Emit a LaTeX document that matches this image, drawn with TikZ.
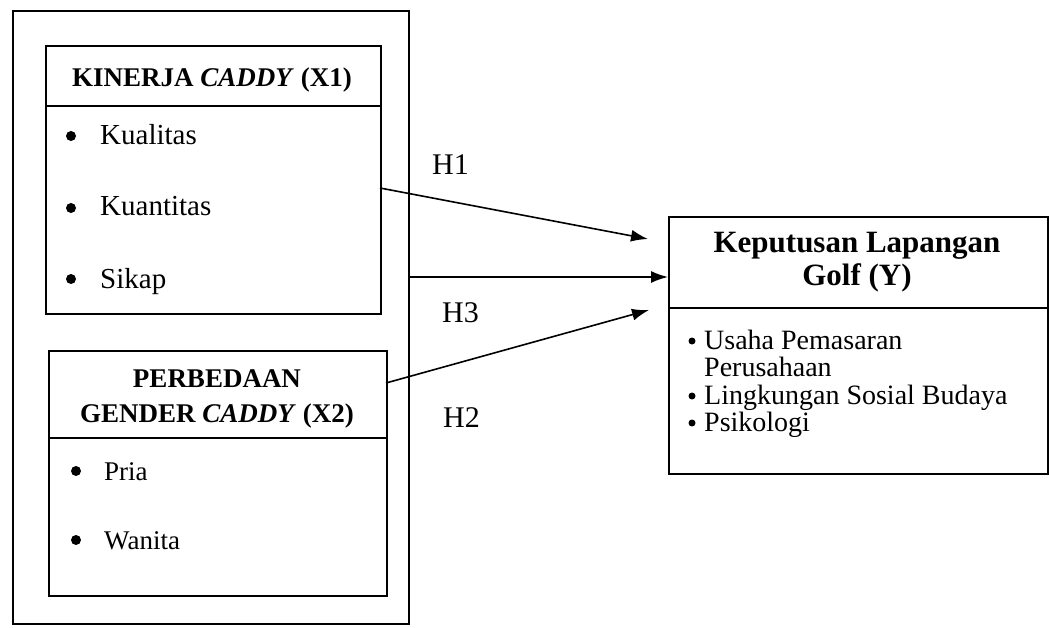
\documentclass[tikz,border=0pt]{standalone}
\usepackage{fontspec}
\setmainfont{Liberation Serif}
\usetikzlibrary{arrows.meta}
\begin{document}
\begin{tikzpicture}[x=1pt,y=-1pt,
  frame/.style={draw, line width=1.6pt, rectangle, inner sep=0pt, anchor=north west},
  div/.style={line width=1.6pt},
  arr/.style={line width=1.6pt, -{Latex[length=17pt,width=12pt]}},
  ttl/.style={font=\fontsize{27}{30}\selectfont\bfseries, anchor=base, inner sep=0pt},
  ttly/.style={font=\fontsize{31}{33}\selectfont\bfseries, anchor=base, inner sep=0pt},
  itm/.style={font=\fontsize{29}{32}\selectfont, anchor=base west, inner sep=0pt},
  itmb/.style={font=\fontsize{27}{30}\selectfont, anchor=base west, inner sep=0pt},
  itmy/.style={font=\fontsize{28}{30}\selectfont, anchor=base west, inner sep=0pt},
  bul/.style={circle, fill, inner sep=0pt, minimum size=10pt},
  buly/.style={circle, fill, inner sep=0pt, minimum size=7pt},
  hl/.style={font=\fontsize{30}{32}\selectfont, anchor=base west, inner sep=0pt}
]
\useasboundingbox (0,0) rectangle (1049,628);
\fill[white] (0,0) rectangle (1049,628);

% boxes
\node[frame, minimum width=396pt, minimum height=613pt] (outer) at (12,10) {};
\node[frame, minimum width=335pt, minimum height=268pt] (x1) at (45,45) {};
\node[frame, minimum width=338pt, minimum height=245pt] (x2) at (48,350) {};
\node[frame, minimum width=379pt, minimum height=257pt] (y) at (668,216) {};
\draw[div] (45,106) -- (380,106);
\draw[div] (48,438) -- (386,438);
\draw[div] (668,308) -- (1047,308);

% X1
\node[ttl] (x1t) at (212,87) {KINERJA \textit{CADDY} (X1)};
\node[bul] (b11) at (71,136) {};
\node[itm] (i11) at (100,145) {Kualitas};
\node[bul] (b12) at (71,208) {};
\node[itm] (i12) at (100,216) {Kuantitas};
\node[bul] (b13) at (71,279) {};
\node[itm] (i13) at (100,288) {Sikap};

% X2
\node[ttl] (x2t1) at (217,387) {PERBEDAAN};
\node[ttl] (x2t2) at (217,422) {GENDER \textit{CADDY} (X2)};
\node[bul] (b21) at (76,471) {};
\node[itmb] (i21) at (104,480) {Pria};
\node[bul] (b22) at (76,540) {};
\node[itmb] (i22) at (104,549) {Wanita};

% Y
\node[ttly] (yt1) at (857,253) {Keputusan Lapangan};
\node[ttly] (yt2) at (857,286) {Golf (Y)};
\node[buly] (by1) at (692,341) {};
\node[itmy] (iy1) at (704,349) {Usaha Pemasaran};
\node[itmy] (iy2) at (704,376) {Perusahaan};
\node[buly] (by2) at (692,396) {};
\node[itmy] (iy3) at (704,404) {Lingkungan Sosial Budaya};
\node[buly] (by3) at (692,423) {};
\node[itmy] (iy4) at (704,431) {Psikologi};

% connectors
\coordinate (h1a) at (380,188);
\coordinate (h1b) at (648,239);
\coordinate (h3a) at (408,277);
\coordinate (h3b) at (668,277);
\coordinate (h2a) at (386,383);
\coordinate (h2b) at (649,310);
\draw[arr] (h1a) -- (h1b);
\draw[arr] (h3a) -- (h3b);
\draw[arr] (h2a) -- (h2b);

\node[hl] (lh1) at (432,175) {H1};
\node[hl] (lh3) at (442,322) {H3};
\node[hl] (lh2) at (443,427) {H2};
\end{tikzpicture}
\end{document}
